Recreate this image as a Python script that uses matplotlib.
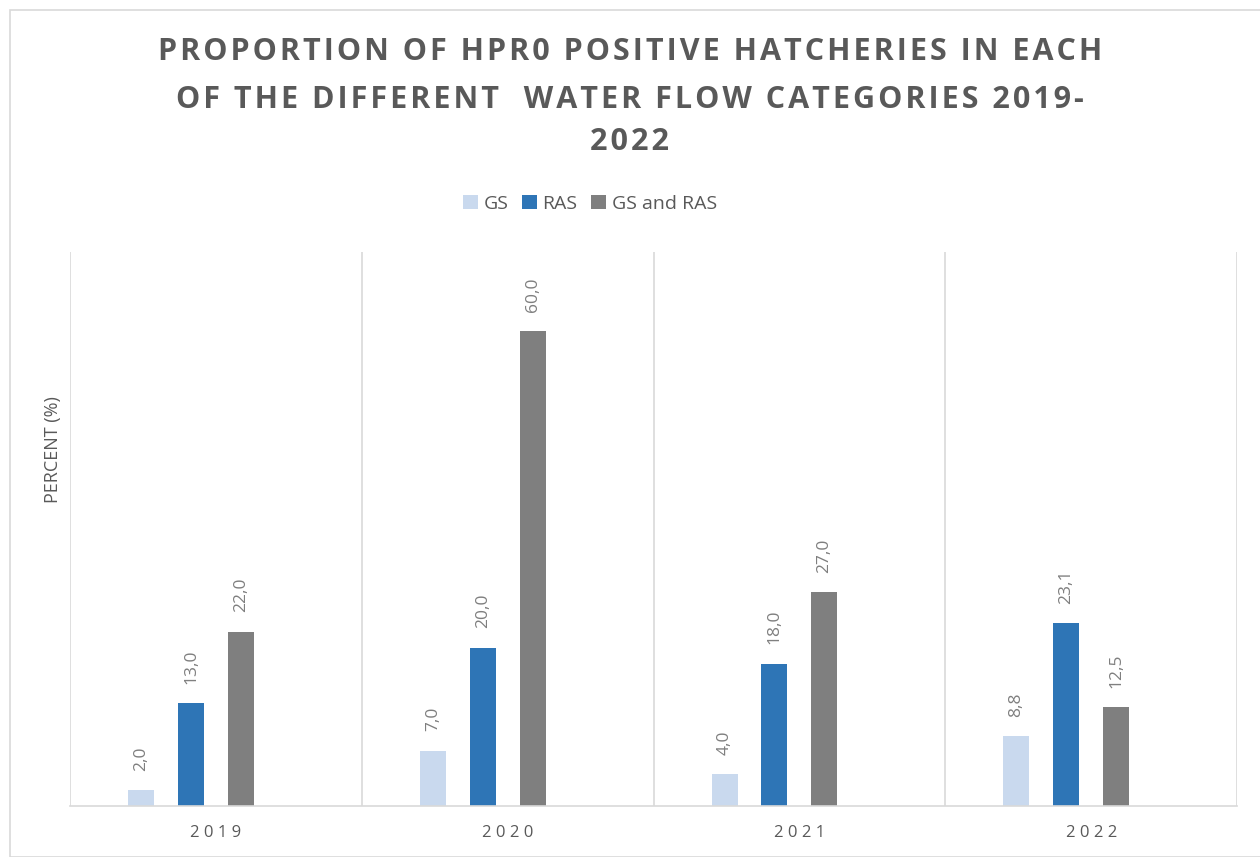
import numpy as np
import matplotlib.pyplot as plt
from matplotlib.patches import Rectangle

years = ['2019', '2020', '2021', '2022']
gs = [2.0, 7.0, 4.0, 8.8]
ras = [13.0, 20.0, 18.0, 23.1]
gs_ras = [22.0, 60.0, 27.0, 12.5]

series = [('GS', gs, '#C9D9EE'), ('RAS', ras, '#2E75B6'), ('GS and RAS', gs_ras, '#7F7F7F')]

title_lines = ['PROPORTION OF HPR0 POSITIVE HATCHERIES IN EACH',
               'OF THE DIFFERENT  WATER FLOW CATEGORIES 2019-',
               '2022']

plt.rcParams['font.family'] = ['Open Sans', 'DejaVu Sans']
txt = '#595959'


def spaced(s, sep='\u200a'):
    # fake letter spacing like the excel title
    return sep.join(s)


fig = plt.figure(figsize=(12.6, 8.57), dpi=100)
ax = fig.add_axes([70 / 1260, 51 / 857, 1167 / 1260, 554 / 857])

x = np.arange(len(years))
step = 0.171
w = 0.089
for i, (name, vals, col) in enumerate(series):
    # excel chart leaves room for a 4th (empty) series, so groups sit left of centre
    pos = x + (i - 1.5) * step
    ax.bar(pos, vals, width=w, color=col, label=name)
    for px, v in zip(pos, vals):
        ax.annotate(f'{v:.1f}'.replace('.', ','), (px, v), xytext=(0, 14),
                    textcoords='offset points', rotation=90, ha='center', va='bottom',
                    fontsize=12.5, color='#7F7F7F')

ax.set_xlim(-0.5, len(years) - 0.5)
ax.set_ylim(0, 70)
ax.set_yticks([])
ax.set_xticks(x)
ax.set_xticklabels([' '.join(y) for y in years], fontsize=12, color=txt)
ax.tick_params(axis='x', length=0, pad=14)
for xv in np.arange(-0.5, len(years), 1.0):
    ax.axvline(xv, color='#D9D9D9', lw=1.2, zorder=0)
for s in ['top', 'left', 'right']:
    ax.spines[s].set_visible(False)
ax.spines['bottom'].set_color('#D9D9D9')
ax.spines['bottom'].set_linewidth(1.2)

ax.set_ylabel('PERCENT (%)', fontsize=13, color=txt)
ax.yaxis.set_label_coords(-8 / 1167, (806 - 450) / 554)

for line, yp in zip(title_lines, [52, 100, 142]):
    fig.text(0.5, 1 - yp / 857, spaced(line), ha='center', va='center',
             fontsize=22, fontweight='bold', color=txt)

leg = fig.legend(loc='center', bbox_to_anchor=(590 / 1260, 1 - 204 / 857), ncol=3,
                 frameon=False, fontsize=14, handlelength=0.75, handleheight=0.75,
                 handletextpad=0.3, columnspacing=0.7)
for t in leg.get_texts():
    t.set_color(txt)

fig.patches.append(Rectangle((10 / 1260, 0), 1.2, 1 - 10 / 857, transform=fig.transFigure,
                             fill=False, edgecolor='#D9D9D9', lw=1.2, figure=fig))

fig.savefig('out.png', dpi=100)
